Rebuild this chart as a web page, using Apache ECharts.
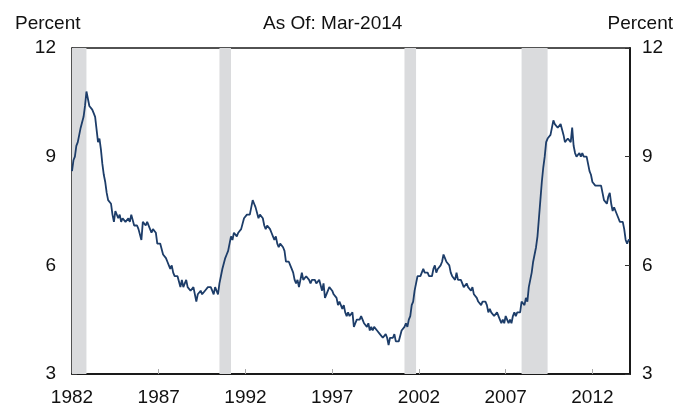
<!DOCTYPE html>
<html>
<head>
<meta charset="utf-8">
<script src="https://cdn.jsdelivr.net/npm/echarts@6/dist/echarts.min.js"></script>
<style>
  html, body { margin: 0; padding: 0; background: #fff; }
  #chart { width: 678px; height: 407px; }
</style>
</head>
<body>
<div id="chart"></div>
<script>
// monthly unemployment rate, Jan 1982 - Mar 2014
const rates1980s = [
  8.6, 8.9, 9.0, 9.3, 9.4, 9.6, 9.8, 9.8, 10.1, 10.4, 10.8, 10.8,
  10.4, 10.4, 10.3, 10.2, 10.1, 10.1, 9.4, 9.5, 9.2, 8.8, 8.5, 8.3,
  8.0, 7.8, 7.8, 7.7, 7.4, 7.2, 7.5, 7.5, 7.3, 7.4, 7.2, 7.3,
  7.3, 7.2, 7.2, 7.3, 7.2, 7.4, 7.4, 7.1, 7.1, 7.1, 7.0, 7.0,
  6.7, 7.2, 7.2, 7.1, 7.2, 7.2, 7.0, 6.9, 7.0, 7.0, 6.9, 6.6,
  6.6, 6.6, 6.6, 6.3, 6.3, 6.2, 6.1, 6.0, 5.9, 6.0, 5.8, 5.7,
  5.7, 5.7, 5.7, 5.4, 5.6, 5.4, 5.4, 5.6, 5.4, 5.4, 5.3, 5.3,
  5.4, 5.2, 5.0, 5.2, 5.2, 5.3, 5.2, 5.2, 5.3, 5.3, 5.4, 5.4
]
const rates1990s = [
  5.4, 5.3, 5.2, 5.4, 5.4, 5.2, 5.5, 5.7, 5.9, 5.9, 6.2, 6.3,
  6.4, 6.6, 6.8, 6.7, 6.9, 6.9, 6.8, 6.9, 6.9, 7.0, 7.0, 7.3,
  7.3, 7.4, 7.4, 7.4, 7.6, 7.8, 7.7, 7.6, 7.6, 7.3, 7.4, 7.4,
  7.3, 7.1, 7.0, 7.1, 7.1, 7.0, 6.9, 6.8, 6.7, 6.8, 6.6, 6.5,
  6.6, 6.6, 6.5, 6.4, 6.1, 6.1, 6.1, 6.0, 5.9, 5.8, 5.6, 5.5,
  5.6, 5.4, 5.4, 5.8, 5.6, 5.6, 5.7, 5.7, 5.6, 5.5, 5.6, 5.6,
  5.6, 5.5, 5.5, 5.6, 5.6, 5.3, 5.5, 5.1, 5.2, 5.2, 5.4, 5.4,
  5.3, 5.2, 5.2, 5.1, 4.9, 5.0, 4.9, 4.8, 4.9, 4.7, 4.6, 4.7,
  4.6, 4.6, 4.7, 4.3, 4.4, 4.5, 4.5, 4.5, 4.6, 4.5, 4.4, 4.4,
  4.3, 4.4, 4.2, 4.3, 4.2, 4.3, 4.3, 4.2, 4.2, 4.1, 4.1, 4.0
]
const rates2000s = [
  4.0, 4.1, 4.0, 3.8, 4.0, 4.0, 4.0, 4.1, 3.9, 3.9, 3.9, 3.9,
  4.2, 4.2, 4.3, 4.4, 4.3, 4.5, 4.6, 4.9, 5.0, 5.3, 5.5, 5.7,
  5.7, 5.7, 5.7, 5.9, 5.8, 5.8, 5.8, 5.7, 5.7, 5.7, 5.9, 6.0,
  5.8, 5.9, 5.9, 6.0, 6.1, 6.3, 6.2, 6.1, 6.1, 6.0, 5.8, 5.7,
  5.7, 5.6, 5.8, 5.6, 5.6, 5.6, 5.5, 5.4, 5.4, 5.5, 5.4, 5.4,
  5.3, 5.4, 5.2, 5.2, 5.1, 5.0, 5.0, 4.9, 5.0, 5.0, 5.0, 4.9,
  4.7, 4.8, 4.7, 4.7, 4.6, 4.6, 4.7, 4.7, 4.5, 4.4, 4.5, 4.4,
  4.6, 4.5, 4.4, 4.5, 4.4, 4.6, 4.7, 4.6, 4.7, 4.7, 4.7, 5.0,
  5.0, 4.9, 5.1, 5.0, 5.4, 5.6, 5.8, 6.1, 6.1, 6.5, 6.8, 7.3,
  7.8, 8.3, 8.7, 9.0, 9.4, 9.5, 9.5, 9.6, 9.8, 10.0, 9.9, 9.9
]
const rates2010s = [
  9.8, 9.8, 9.9, 9.9, 9.6, 9.4, 9.4, 9.5, 9.5, 9.4, 9.8, 9.3,
  9.1, 9.0, 9.0, 9.1, 9.0, 9.1, 9.0, 9.0, 9.0, 8.8, 8.6, 8.5,
  8.3, 8.3, 8.2, 8.2, 8.2, 8.2, 8.2, 8.0, 7.8, 7.8, 7.7, 7.9,
  8.0, 7.7, 7.5, 7.6, 7.5, 7.5, 7.3, 7.2, 7.2, 7.2, 7.0, 6.7,
  6.6, 6.7, 6.7
]
const recessionStart = ['1982-01', '1990-07', '2001-03', '2007-12']
const recessionEnd = ['1982-11', '1991-03', '2001-11', '2009-06']
const yTicks = [3, 6, 9, 12]

const rates = [...rates1980s, ...rates1990s, ...rates2000s, ...rates2010s]
const months = rates.map((v, i) => {
  const y = 1982 + Math.floor(i / 12)
  const m = (i % 12) + 1
  return y + '-' + (m < 10 ? '0' + m : m)
})

const font = "'Liberation Sans', Arial, Helvetica, sans-serif"
const chart = echarts.init(document.getElementById('chart'))

const yAxisBase = (position, margin, lineWidth) => ({
  type: 'value',
  position,
  min: yTicks[0],
  max: yTicks[yTicks.length - 1],
  interval: 3,
  axisLine: { show: true, lineStyle: { color: '#1a1a1a', width: lineWidth } },
  axisTick: { show: true, inside: true, length: 5, lineStyle: { color: '#333' } },
  axisLabel: { margin, color: '#111', fontSize: 19, fontFamily: font },
  splitLine: { show: false }
})

chart.setOption({
  animation: false,
  grid: { left: 72, right: 48, top: 48, bottom: 32 },
  graphic: [
    { type: 'text', left: 15, top: 14, style: { text: 'Percent', fill: '#111', font: '19px ' + font } },
    { type: 'text', left: 263, top: 14, style: { text: 'As Of: Mar-2014', fill: '#111', font: '19px ' + font } },
    { type: 'text', right: 5, top: 14, style: { text: 'Percent', fill: '#111', font: '19px ' + font } }
  ],
  xAxis: [
    {
      type: 'category',
      data: months,
      boundaryGap: false,
      position: 'bottom',
      axisLine: { show: true, onZero: false, lineStyle: { color: '#1a1a1a', width: 2 } },
      axisTick: { show: true, inside: true, length: 5, interval: 59, lineStyle: { color: '#aaa' } },
      axisLabel: {
        interval: 59,
        margin: 14,
        color: '#111',
        fontSize: 19,
        fontFamily: font,
        formatter: (v) => v.slice(0, 4)
      },
      splitLine: { show: false }
    },
    {
      type: 'category',
      data: months,
      boundaryGap: false,
      position: 'top',
      axisLine: { show: true, onZero: false, lineStyle: { color: '#1a1a1a', width: 1.5 } },
      axisTick: { show: false },
      axisLabel: { show: false }
    }
  ],
  yAxis: [yAxisBase('left', 16, 1.5), yAxisBase('right', 12, 2)],
  series: [
    {
      type: 'line',
      data: rates,
      symbol: 'none',
      lineStyle: { color: '#1d3d69', width: 1.8 },
      markArea: {
        silent: true,
        itemStyle: { color: '#dadbdd' },
        data: recessionStart.map((s, i) => [{ xAxis: s }, { xAxis: recessionEnd[i] }])
      }
    }
  ]
})
</script>
</body>
</html>
